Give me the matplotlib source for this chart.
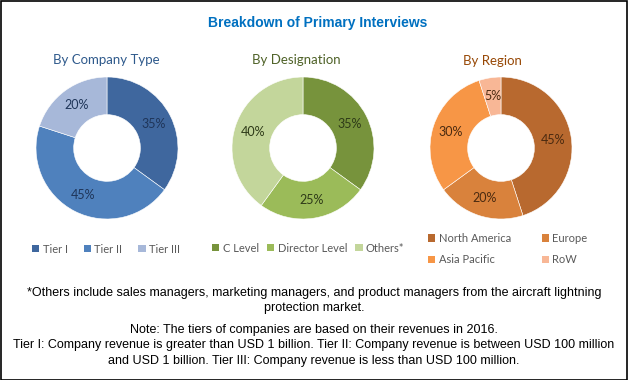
import matplotlib
matplotlib.use('Agg')
import matplotlib.pyplot as plt

# data
company_labels = ['Tier I', 'Tier II', 'Tier III']
company_values = [35, 45, 20]
company_colors = ['#3F679E', '#4F81BD', '#A7B8D9']

designation_labels = ['C Level', 'Director Level', 'Others*']
designation_values = [35, 25, 40]
designation_colors = ['#77933C', '#9BBB59', '#C3D69B']

region_labels = ['North America', 'Europe', 'Asia Pacific', 'RoW']
region_values = [45, 20, 30, 5]
region_colors = ['#B8692F', '#D9823C', '#F79646', '#F8B796']

W, H = 628, 380
sans = ['Liberation Sans', 'DejaVu Sans']
cal = ['Lato', 'DejaVu Sans']

fig = plt.figure(figsize=(W / 100, H / 100), dpi=100)
fig.patch.set_facecolor('white')


def px_axes(cx, cy, r):
    return fig.add_axes([(cx - r) / W, 1 - (cy + r) / H, 2 * r / W, 2 * r / H])


def donut(cx, cy, values, colors, txtcolor):
    ax = px_axes(cx, cy, 71)
    wedges, texts, autotexts = ax.pie(
        values, colors=colors, startangle=90, counterclock=False,
        radius=1, autopct='%d%%', pctdistance=0.74,
        wedgeprops=dict(width=0.53, edgecolor='white', linewidth=0.4),
        textprops=dict(fontsize=9, color=txtcolor, family=cal))
    ax.set_xlim(-1, 1)
    ax.set_ylim(-1, 1)
    ax.set_aspect('equal')
    ax.axis('off')
    return ax, wedges


def legend(handles, labels, x, y, ncol, colsp):
    lg = fig.legend(handles, labels, loc='center left',
                    bbox_to_anchor=(x / W, 1 - y / H), ncol=ncol,
                    frameon=False, handlelength=0.65, handleheight=0.65,
                    handletextpad=0.3, columnspacing=colsp, labelspacing=0.95,
                    prop=dict(family=cal, size=8), labelcolor='#595959',
                    borderaxespad=0, borderpad=0)
    for h in lg.legend_handles:
        h.set_edgecolor('none')
    return lg


ax1, w1 = donut(107, 148, company_values, company_colors, '#1F3559')
ax2, w2 = donut(303, 148, designation_values, designation_colors, '#2E3A18')
ax3, w3 = donut(501, 148, region_values, region_colors, '#4A2A10')

legend(w1, company_labels, 32, 249, 3, 1.45)
legend(w2, designation_labels, 212, 248, 3, 0.75)
# two rows, filled row by row: North America, Europe / Asia Pacific, RoW
order = [0, 2, 1, 3]
legend([w3[i] for i in order], [region_labels[i] for i in order], 428, 249, 2, 2.8)

# titles
fig.text(318 / W, 1 - 23 / H, 'Breakdown of Primary Interviews', ha='center', va='center',
         fontsize=10, fontweight='bold', color='#0070C0', family=sans)
fig.text(106 / W, 1 - 60 / H, 'By Company Type', ha='center', va='center',
         fontsize=9.5, color='#2F5A8C', family=cal)
fig.text(296 / W, 1 - 60 / H, 'By Designation', ha='center', va='center',
         fontsize=9.5, color='#4F6228', family=cal)
fig.text(492 / W, 1 - 61 / H, 'By Region', ha='center', va='center',
         fontsize=9.5, color='#974806', family=cal)

# footnotes
foot = dict(ha='center', va='center', fontsize=9, color='black', family=sans)
fig.text(314 / W, 1 - 293 / H,
         '*Others include sales managers, marketing managers, and product managers from the aircraft lightning',
         **foot)
fig.text(314 / W, 1 - 308 / H, 'protection market.', **foot)
fig.text(314 / W, 1 - 330 / H, 'Note: The tiers of companies are based on their revenues in 2016.', **foot)
fig.text(314 / W, 1 - 345 / H,
         'Tier I: Company revenue is greater than USD 1 billion. Tier II: Company revenue is between USD 100 million',
         **foot)
fig.text(314 / W, 1 - 361 / H,
         'and USD 1 billion. Tier III: Company revenue is less than USD 100 million.', **foot)

# outer frame
frame = plt.Rectangle((0.5 / W, 0.5 / H), 1 - 1.5 / W, 1 - 1.5 / H, transform=fig.transFigure,
                      fill=False, edgecolor='black', linewidth=1.2)
fig.patches.append(frame)

fig.savefig('out.png', dpi=100)
